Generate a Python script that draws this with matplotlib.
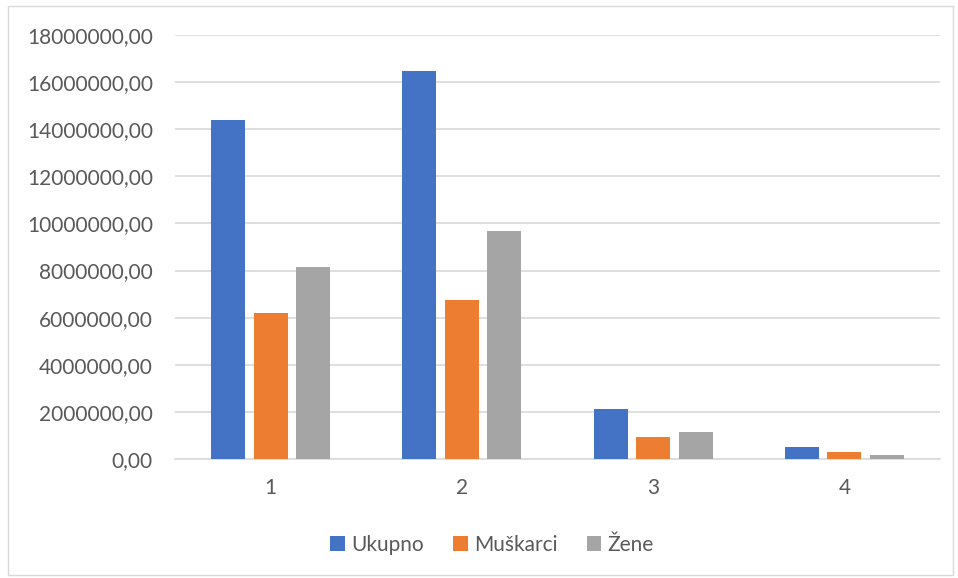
import matplotlib.pyplot as plt
import matplotlib.patches as patches
from matplotlib import ticker
import numpy as np

categories = ['1', '2', '3', '4']
ukupno = [14410000, 16460000, 2130000, 500000]
muskarci = [6190000, 6750000, 955000, 310000]
zene = [8170000, 9660000, 1140000, 170000]
series_names = ['Ukupno', 'Muškarci', 'Žene']
colors = ['#4472C4', '#ED7D31', '#A5A5A5']
yticks = np.arange(0, 18000001, 2000000)

plt.rc('font', family=['Lato', 'DejaVu Sans'])
txt = '#595959'

fig = plt.figure(figsize=(9.58, 5.78), dpi=100)
W, H = 958.0, 578.0
ax = fig.add_axes([175/W, 1-459/H, 765/W, 424/H])

x = np.arange(1, len(categories)+1)
w = 0.178
step = 0.222
for i, (vals, name, c) in enumerate(zip([ukupno, muskarci, zene], series_names, colors)):
    ax.bar(x + (i-1)*step, vals, width=w, color=c, label=name, zorder=3)

ax.set_xlim(0.5, 4.5)
ax.set_ylim(0, 18000000)
ax.set_yticks(yticks)
ax.yaxis.set_major_formatter(ticker.FuncFormatter(lambda v, p: '%d,00' % v))
ax.set_xticks(x)
ax.set_xticklabels(categories)
ax.grid(axis='y', color='#D9D9D9', lw=1.2, zorder=0)
ax.tick_params(axis='both', length=0, labelsize=15, colors=txt)
ax.tick_params(axis='y', pad=16)
ax.tick_params(axis='x', pad=14)
for s in ['top', 'right', 'left']:
    ax.spines[s].set_visible(False)
ax.spines['bottom'].set_color('#D9D9D9')
ax.spines['bottom'].set_linewidth(1.2)

leg = fig.legend(loc='center', bbox_to_anchor=(492/W, 1-545/H), ncol=3, frameon=False,
                 fontsize=15, handlelength=0.7, handleheight=0.7, handletextpad=0.3,
                 columnspacing=1.4)
for t in leg.get_texts():
    t.set_color(txt)

fig.patches.append(patches.Rectangle((8/W, 3/H), 945/W, 569/H, transform=fig.transFigure,
                                     fill=False, edgecolor='#D9D9D9', lw=1))

plt.savefig('out.png', dpi=100)
